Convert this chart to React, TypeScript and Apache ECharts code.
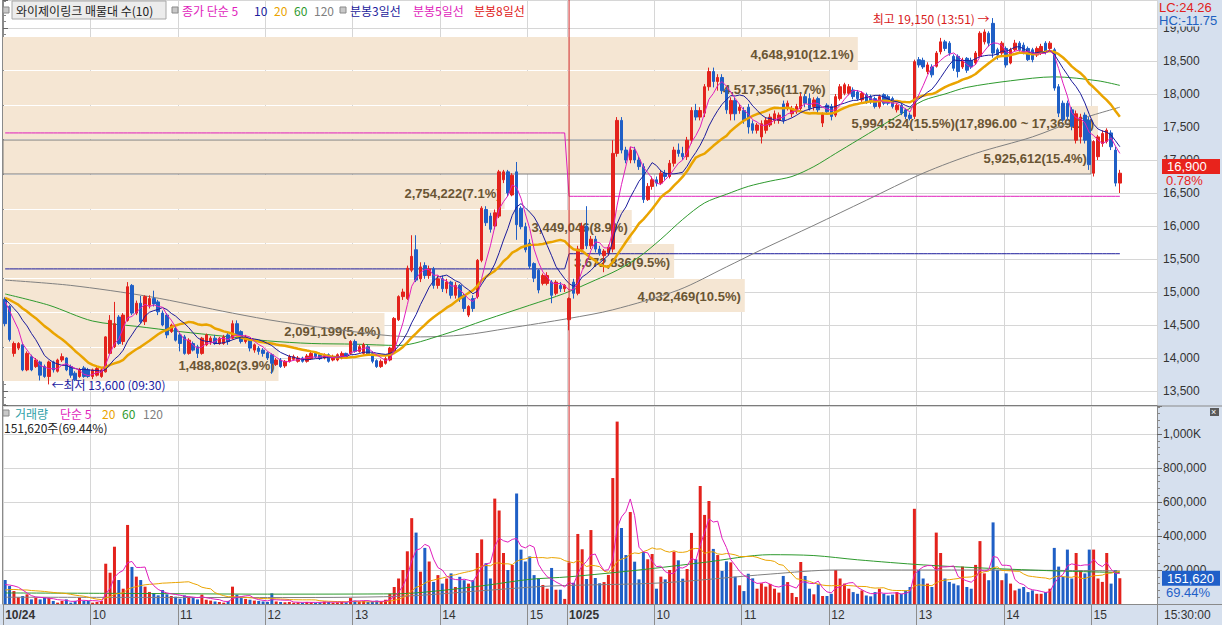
import React, { useEffect, useRef } from "react";
import * as echarts from "echarts";

// ---------------- data ----------------
const DATES = ["10/24", "10/25"];

// 3-minute candles [open, close, low, high]
const day1Candles: number[][] = [
  [14890,14520,14480,14920],[14780,14280,14250,14800],[14070,14220,14020,14250],[14150,14220,14120,14240],[14200,13820,13800,14230],[13820,14070,13800,14100],[14020,13820,13800,14050],[13870,13970,13850,14000],[13940,13740,13660,13960],[13870,13720,13700,13900],
  [13720,13940,13600,13960],[13940,13820,13780,13960],[13800,13970,13780,13990],[13970,14020,13940,14070],[14000,13820,13800,14010],[13870,13740,13700,13900],[13770,13670,13650,13800],[13720,13820,13700,13850],[13850,13720,13700,13880],[13820,13720,13700,13850],
  [13720,13820,13680,13840],[13740,13840,13720,13870],[13720,13820,13700,13850],[13790,14320,13780,14330],[14070,14570,14060,14650],[14170,14520,14150,14850],[14620,14220,14200,14650],[14250,14650,14200,14680],[14570,15080,14550,15150],[15100,14680,14650,15120],
  [14680,14830,14650,14870],[14830,14550,14520,14940],[14550,14930,14500,14950],[14800,14900,14750,14950],[14900,14820,14780,15020],[14850,14700,14650,14880],[14680,14500,14480,14720],[14650,14350,14300,14680],[14400,14500,14380,14520],[14450,14270,14250,14480],
  [14350,14220,14100,14380],[14320,14070,14050,14350],[14070,14270,14050,14300],[14220,14120,14100,14250],[14170,14070,14000,14200],[14070,14300,14050,14320],[14200,14350,14180,14370],[14250,14300,14200,14330],[14300,14220,14200,14350],[14220,14300,14200,14320],
  [14220,14320,14200,14350],[14350,14250,14200,14380],[14300,14520,14280,14570],[14520,14350,14330,14570],[14400,14250,14220,14420],[14250,14320,14220,14350],[14280,14150,14100,14300],[14120,14200,14080,14220],[14150,14100,14050,14180],[14120,14070,14020,14150],
  [14080,14000,13970,14100],[14050,13920,13760,14070],[13900,13970,13880,14000],[13970,13870,13850,14000],[13880,13950,13850,13970],[13950,14020,13930,14050],[13980,14020,13960,14050],[13950,14000,13930,14030],[14000,13950,13930,14020],[13950,14030,13930,14060],
  [13990,14070,13970,14100],[14070,14020,14000,14100],[14050,13990,13970,14080],[14000,14050,13980,14070],[14050,13950,13930,14070],[13970,14020,13950,14050],[13970,14050,13950,14070],[14000,14070,13980,14100],[14070,14020,14000,14080],[14070,14250,14050,14270],
  [14250,14100,14080,14280],[14100,14170,14080,14200],[14070,14200,14050,14230],[14170,14050,14030,14200],[14070,13950,13920,14100],[13960,13870,13850,13980],[13870,13950,13850,13980],[13920,13990,13900,14020],[13970,14150,13950,14170],[14100,14600,14080,14620],
  [14580,14930,14560,14950],[14930,15000,14880,15050],[14900,15360,14880,15400],[15330,15540,15300,15860],[15640,15180,15150,15860],[15200,15380,15150,15450],[15400,15250,15200,15450],[15250,15350,15200,15400],[15350,15100,15050,15380],[15100,15200,15050,15250],
  [15200,15050,15000,15250],[15050,15150,14980,15200],[15150,14950,14900,15170],[14950,15100,14900,15150],[15100,14900,14850,15120],[14950,14750,14700,14980],[14650,14780,14620,14800],[14900,14750,14700,14950],[14930,15480,14900,15500],[15480,16270,15450,16300],
  [16250,16050,16000,16300],[16150,15950,15900,16200],[16000,16200,15950,16250],[16150,16820,16120,16850],[16700,16820,16650,16850],[16820,16500,16450,16850],[16470,16770,16450,16800],[16820,16020,15790,16970],[16270,15990,15950,16300],[15990,15640,15600,16050],
  [15740,15390,15350,15800],[15430,15210,15150,15450],[15330,15030,14980,15350],[15130,15250,15100,15280],[15130,15250,15100,15300],[15150,14950,14830,15180],[14980,15150,14950,15180],[15100,15050,15000,15150],[15050,15100,15000,15120],
];
const day2Candles: number[][] = [
  [14580,14900,14420,14920],[15150,14980,14900,15200],[14980,15650,14950,15700],[15650,16000,15600,16050],[16000,15700,15650,16300],[15700,15800,15650,15850],[15800,15650,15600,15850],[15650,15580,15550,15700],[15550,15620,15300,15650],[15600,15680,15550,15720],
  [15650,17100,15600,17300],[17100,17600,17050,17650],[17600,17150,17100,17650],[17150,17000,16950,17200],[17000,17150,16950,17200],[17150,17000,16950,17200],[17000,16900,16850,17050],[16900,16400,16350,16950],[16400,16600,16380,16650],[16600,16700,16550,16750],
  [16700,16650,16600,16750],[16650,16800,16620,16850],[16800,16750,16700,16850],[16750,16950,16720,17000],[16950,17150,16900,17200],[17150,17100,17050,17250],[17100,17050,17000,17200],[17050,17300,17000,17350],[17300,17750,17250,17800],[17750,17650,17600,17850],
  [17650,17750,17600,17800],[17710,18110,17650,18150],[18110,18340,18050,18400],[18340,18190,18100,18400],[18190,18250,18050,18300],[18250,18050,18000,18300],[18060,17760,17700,18100],[17700,17900,17600,17950],[17900,17700,17600,17950],[17750,17800,17700,17850],
  [17750,17600,17550,17800],[17800,17500,17400,17850],[17550,17450,17400,17600],[17450,17530,17400,17560],[17350,17550,17250,17600],[17450,17600,17400,17650],[17530,17650,17500,17700],[17600,17700,17550,17750],[17600,17680,17550,17720],[17850,17600,17550,17900],
  [17800,17860,17750,17900],[17700,17780,17650,17820],[17730,17810,17700,17850],[17780,17960,17750,18010],[17960,17860,17800,18000],[17930,17780,17750,18010],[17810,17910,17750,17950],[17930,17760,17700,17960],[17560,17690,17500,17720],[17830,17730,17700,17860],
  [17810,17660,17600,17850],[17680,17960,17650,18000],[17930,18110,17900,18150],[18010,18140,17980,18170],[18010,18110,17980,18150],[18060,17960,17920,18100],[18030,17930,17900,18060],[17910,18010,17880,18040],[17990,17880,17850,18020],[17960,17880,17850,17990],
  [17930,17810,17780,17960],[17810,17960,17780,17990],[17990,17860,17830,18010],[17960,17860,17830,17990],[17930,17810,17780,17960],[17760,17830,17720,17860],[17830,17710,17680,17860],[17760,17660,17620,17780],[17680,17630,17600,17720],[17660,18490,17620,18520],
  [18520,18440,18400,18560],[18510,18410,18380,18550],[18340,18440,18300,18480],[18410,18290,18250,18450],[18420,18620,18400,18650],[18640,18790,18600,18850],[18790,18690,18650,18820],[18770,18620,18580,18800],[18570,18390,18350,18600],[18570,18340,18250,18600],
  [18410,18510,18380,18550],[18540,18360,18320,18560],[18510,18410,18380,18550],[18470,18620,18440,18650],[18570,18920,18550,18950],[18790,18940,18750,18980],[18920,18770,18720,18950],[19070,18620,18550,19150],[18670,18590,18520,18700],[18620,18770,18580,18800],
  [18690,18440,18400,18720],[18470,18670,18450,18700],[18670,18770,18650,18820],[18770,18670,18640,18800],[18740,18620,18600,18780],[18690,18520,18500,18720],[18670,18520,18480,18700],[18590,18690,18560,18720],[18620,18720,18590,18760],[18770,18640,18600,18800],
  [18690,18770,18660,18800],[18670,18090,18050,18700],[18110,17710,17650,18150],[17860,17610,17580,17900],[17860,17660,17600,17900],[17760,17510,17450,17800],[17300,17700,17250,17750],[17350,17650,17250,17700],[17680,17300,17250,17720],[17600,16930,16850,17650],
  [16800,17280,16750,17300],[17050,17350,17000,17380],[17250,17400,17200,17450],[17280,17450,17250,17480],[17410,17200,17150,17450],[17150,16650,16600,17200],[16650,16800,16500,16850],
];

// volume, thousand shares
const day1Volume: number[] = [
  141,106,76,40,47,57,27,37,27,37, 37,18,8,18,27,8,18,37,18,18,
  8,12,18,237,184,337,141,90,465,218, 161,141,102,71,63,51,82,57,47,43,
  31,51,43,35,27,55,25,20,15,12, 8,18,102,55,35,30,25,20,18,15,
  12,63,15,12,10,12,8,10,8,12, 10,8,10,15,12,8,10,12,10,35,
  20,15,18,12,15,20,12,25,60,100, 150,200,310,505,420,190,330,250,130,170,
  120,150,180,100,160,140,120,140,300,380, 240,150,620,550,300,200,230,650,320,250,
  280,170,150,112,90,212,84,84,30,
];
const day2Volume: number[] = [
  243,125,412,322,147,435,153,122,129,171, 741,1073,447,288,541,249,145,306,263,294,
  90,161,145,200,308,257,149,206,418,263, 694,524,606,324,288,194,251,245,161,110,
  76,178,151,90,122,102,118,90,67,165, 129,65,41,247,165,90,57,116,47,47,
  60,200,150,120,90,70,60,80,50,45, 70,90,60,50,55,70,60,80,100,560,
  200,150,120,100,420,300,150,130,120,110, 220,100,90,230,370,180,140,480,200,140,
  180,120,80,90,100,70,80,60,60,70, 90,330,220,160,320,150,300,200,180,320,
  320,150,130,300,120,200,151.62,
];

// closes / volumes of the candles before the first visible one (for the moving averages)
const prevCloses = [14950,14920,14960,14980,14940,14900,14930,14960,14920,14900,14940,14960,14930,14900,14920,14950,14930,14910,14940];
const prevVolumes = [60,50,70,80,60,90,70,60,80,100,70,60,50,80,90,120,100,80,130];

// long moving averages [candle index, value]
const ma60Points: number[][] = [[0,14970],[10,14800],[20,14560],[30,14480],[40,14400],[50,14330],[60,14260],[70,14220],[80,14210],[90,14190],[100,14350],[110,14580],[120,14800],[128,14980],[135,15180],[140,15330],[145,15530],[150,15800],[155,16100],[160,16350],[165,16480],[170,16600],[175,16680],[180,16750],[185,16900],[190,17100],[195,17300],[200,17500],[205,17700],[210,17900],[215,18000],[220,18100],[230,18200],[240,18260],[250,18200],[255,18130]];
const ma120Points: number[][] = [[0,15180],[15,15100],[33,14930],[52,14680],[63,14550],[86,14350],[95,14320],[105,14350],[115,14450],[129,14600],[139,14730],[154,15030],[165,15380],[173,15640],[185,16010],[197,16390],[210,16800],[222,17100],[235,17350],[245,17600],[255,17800]];
const volMa60Points: number[][] = [[0,65],[30,62],[60,58],[90,60],[100,80],[110,110],[120,145],[129,160],[145,200],[160,245],[175,290],[185,285],[195,260],[210,230],[225,210],[240,195],[255,185]];
const volMa120Points: number[][] = [[0,40],[60,38],[90,45],[110,80],[125,106],[150,124],[175,176],[190,200],[220,200],[255,195]];

// 분봉 N일선 levels per day
const minuteLine3 = [15350, 15580];
const minuteLine5 = [17410, 16450];

// 매물대 (volume profile) bands, low → high
const bandEdges = [13650,14173,14696,15219,15742,16265,16788,17311,17834,18357,18880];
const bandVolumes = [1488802,2091199,4032469,3672836,3449046,2754222,5925612,5994524,4517356,4648910];
const bandPercents = [3.9,5.4,10.5,9.5,8.9,7.1,15.4,15.5,11.7,12.1];
const maxBandRangeText = "(17,896.00 ~ 17,369.00)";

const highMark = { index: 226, value: 19150, time: "13:51" };
const lowMark = { index: 10, value: 13600, time: "09:30" };
const currentPrice = 16900;
const changeText = "0.78%";
const lastVolume = 151620;
const volumeRatioText = "69.44%";
const lcText = "LC:24.26";
const hcText = "HC:-11.75";
const EMPTY_SLOTS = 8;

// axis ranges
const PRICE_MIN = 13288, PRICE_MAX = 19424;
const VOL_MAX = 1164700;

// ---------------- helpers ----------------
const RED = "#e3221c";
const BLUE = "#1f5fc6";
const NAVY = "#1c1c9c";
const MAGENTA = "#e01ebc";
const GOLD = "#eaa400";
const GREEN = "#2e9a2e";
const GRAY = "#808080";
const GRID = "#d6d6d6";
const PANEL = "#d6e0ee";
const BAND = "#f5e6d3";
const SEP = "#d02828";
const NUM_FONT = "'Liberation Sans', Arial, sans-serif";
const KR_FONT = "'Noto Sans CJK KR', 'Noto Sans', sans-serif";

const fmt = (n: number) => Math.round(n).toLocaleString("en-US");

function sma(values: number[], prev: number[], n: number) {
  const all = prev.concat(values);
  return values.map((_, i) => {
    const end = prev.length + i + 1;
    const start = end - n;
    if (start < 0) return null;
    let s = 0;
    for (let k = start; k < end; k++) s += all[k];
    return s / n;
  });
}

function pad2(n: number) { return (n < 10 ? "0" : "") + n; }
function timeLabel(k: number) {
  const m = 9 * 60 + k * 3;
  return pad2(Math.floor(m / 60)) + ":" + pad2(m % 60);
}

const N1 = day1Candles.length;
const candles = day1Candles.concat(day2Candles);
const categories: string[] = [];
day1Candles.forEach((_, k) => categories.push(DATES[0] + " " + (k === N1 - 1 ? "15:30" : timeLabel(k))));
day2Candles.forEach((_, k) => categories.push(DATES[1] + " " + timeLabel(k)));
for (let k = 0; k < EMPTY_SLOTS; k++) categories.push("-" + k);

const tickSet = new Set<number>();
categories.forEach((c, i) => { if (c.endsWith(":00")) tickSet.add(i); });
const isTick = (index: number) => tickSet.has(index);

const closes = candles.map((c) => c[1]);
const volumes = day1Volume.concat(day2Volume).map((v) => Math.round(v * 1000));
const prevVols = prevVolumes.map((v) => v * 1000);
const ma5 = sma(closes, prevCloses, 5);
const ma10 = sma(closes, prevCloses, 10);
const ma20 = sma(closes, prevCloses, 20);
const vma5 = sma(volumes, prevVols, 5);
const vma20 = sma(volumes, prevVols, 20);
const line3 = candles.map((_, i) => minuteLine3[i < N1 ? 0 : 1]);
const line5 = candles.map((_, i) => minuteLine5[i < N1 ? 0 : 1]);

const maxBand = bandPercents.indexOf(Math.max(...bandPercents));
let currentBand = -1;
for (let k = 0; k < bandPercents.length; k++) if (currentPrice >= bandEdges[k] && currentPrice < bandEdges[k + 1]) currentBand = k;

function lineSeries(name: string, data: any[], color: string, width: number, xi: number, yi: number, z: number, smooth: any = false) {
  return {
    type: "line", name, data, xAxisIndex: xi, yAxisIndex: yi, symbol: "none", smooth, z,
    lineStyle: { color, width }, itemStyle: { color }, silent: true, connectNulls: true,
  };
}

function txt(text: string, x: number, y: number, fill: string, font = `12px ${KR_FONT}`, extra: any = {}) {
  return {
    type: "text", z: 20,
    style: { text, x, y, fill, font, textVerticalAlign: "middle", verticalAlign: "middle", ...extra },
  };
}
function icon(x: number, y: number) {
  return { type: "rect", z: 20, shape: { x, y, width: 6, height: 6 }, style: { fill: "#c8c8c8", stroke: "#8a8a8a", lineWidth: 1 } };
}

function valueTag(value: number, sub: string, bg: string) {
  return {
    yAxis: value,
    lineStyle: { color: "rgba(0,0,0,0)", width: 0 },
    label: {
      show: true, position: "end", distance: 5,
      formatter: "{e|}\n{a|" + fmt(value) + "}\n{b|" + sub + "}",
      rich: {
        e: { height: 13, lineHeight: 13, fontSize: 12 },
        a: { backgroundColor: bg, color: "#fff", width: 53, height: 15, lineHeight: 15, fontSize: 13, padding: [0, 0, 0, 5], fontFamily: NUM_FONT },
        b: { color: bg, fontSize: 13, height: 13, lineHeight: 13, padding: [0, 0, 0, 4], fontFamily: NUM_FONT },
      },
    },
  };
}

// ---------------- option ----------------
const option: any = {
  animation: false,
  textStyle: { fontFamily: NUM_FONT },
  grid: [
    { left: 3, top: 0, width: 1154, height: 405, show: false },
    { left: 3, top: 406, width: 1154, height: 198, show: false },
  ],
  xAxis: [
    {
      type: "category", gridIndex: 0, data: categories, boundaryGap: true,
      axisLine: { show: true, lineStyle: { color: "#7c7c7c" } },
      axisTick: { show: false }, axisLabel: { show: false },
      splitLine: { show: true, interval: isTick, lineStyle: { color: GRID } },
    },
    {
      type: "category", gridIndex: 1, data: categories, boundaryGap: true,
      axisLine: { show: true, lineStyle: { color: "#8a8a8a" } },
      axisTick: { show: true, interval: isTick, length: 21, lineStyle: { color: "#8c8c8c" } },
      axisLabel: {
        show: true, interval: isTick, align: "left", margin: 5, color: "#333", fontSize: 12, fontFamily: NUM_FONT,
        formatter: (v: string) => {
          const [d, t] = v.split(" ");
          if (t === "09:00") return "{b|" + d + "}";
          return String(parseInt(t, 10));
        },
        rich: { b: { fontWeight: "bold", fontSize: 12, color: "#333", fontFamily: NUM_FONT } },
      },
      splitLine: { show: true, interval: isTick, lineStyle: { color: GRID } },
    },
    { type: "value", gridIndex: 0, min: 0, max: 16.335, show: false },
  ],
  yAxis: [
    {
      type: "value", gridIndex: 0, position: "right", min: PRICE_MIN, max: PRICE_MAX, splitNumber: 12,
      axisLine: { show: true, lineStyle: { color: "#8a8a8a" } },
      axisTick: { show: true, length: 5, lineStyle: { color: "#666" } },
      minorTick: { show: true, splitNumber: 5, length: 3, lineStyle: { color: "#888" } },
      axisLabel: { showMinLabel: false, showMaxLabel: false, margin: 6, color: "#333", fontSize: 12, fontFamily: NUM_FONT, formatter: (v: number) => fmt(v) },
      splitLine: { show: true, lineStyle: { color: GRID } },
    },
    {
      type: "value", gridIndex: 1, position: "right", min: 0, max: VOL_MAX, splitNumber: 6,
      axisLine: { show: true, lineStyle: { color: "#8a8a8a" } },
      axisTick: { show: true, length: 5, lineStyle: { color: "#666" } },
      minorTick: { show: true, splitNumber: 5, length: 3, lineStyle: { color: "#888" } },
      axisLabel: {
        showMinLabel: false, showMaxLabel: false, margin: 6, color: "#333", fontSize: 12, fontFamily: NUM_FONT,
        formatter: (v: number) => (v >= 1000000 ? fmt(v / 1000) + "K" : fmt(v)),
      },
      splitLine: { show: true, lineStyle: { color: GRID } },
    },
  ],
  series: [
    {
      type: "custom", name: "매물대", xAxisIndex: 2, yAxisIndex: 0, z: 1, silent: true, clip: false,
      data: bandPercents.map((p, k) => [p, bandEdges[k], bandEdges[k + 1]]),
      renderItem: (params: any, api: any) => {
        const k = params.dataIndex;
        const tl = api.coord([0, api.value(2)]);
        const br = api.coord([api.value(0), api.value(1)]);
        const x = tl[0];
        const y = Math.round(tl[1]) + 1;
        const w = br[0] - x;
        const h = Math.round(br[1]) - y;
        let label = fmt(bandVolumes[k]) + "(" + bandPercents[k].toFixed(1) + "%)";
        if (k === maxBand) label += maxBandRangeText;
        const rectStyle: any = { fill: BAND };
        if (k === currentBand) { rectStyle.stroke = "#7d7d7d"; rectStyle.lineWidth = 1; }
        return {
          type: "group",
          children: [
            { type: "rect", shape: { x, y, width: w, height: h }, style: rectStyle },
            {
              type: "text",
              style: {
                text: label, x: x + w - 4, y: y + h / 2 + 1,
                align: "right", verticalAlign: "middle", textAlign: "right", textVerticalAlign: "middle",
                fill: "#6a5533", font: `bold 13px ${NUM_FONT}`,
              },
            },
          ],
        };
      },
    },
    lineSeries("분봉3일선", line3, NAVY, 1, 0, 0, 2),
    lineSeries("분봉5일선", line5, MAGENTA, 1, 0, 0, 2),
    // day separators (vertical lines at the first candle of 10/25)
    lineSeries("day-sep-price", [[categories[N1], PRICE_MIN], [categories[N1], PRICE_MAX]], SEP, 1, 0, 0, 6),
    lineSeries("day-sep-volume", [[categories[N1], 0], [categories[N1], VOL_MAX]], SEP, 1, 1, 1, 6),
    lineSeries("MA120", ma120Points, GRAY, 1, 0, 0, 3, 0.3),
    lineSeries("MA60", ma60Points, GREEN, 1, 0, 0, 3, 0.3),
    {
      type: "candlestick", name: "가격", data: candles, xAxisIndex: 0, yAxisIndex: 0, barWidth: 3, z: 4,
      itemStyle: { color: RED, color0: BLUE, borderColor: RED, borderColor0: BLUE, borderWidth: 1 },
      markPoint: {
        silent: true, symbol: "circle", symbolSize: 1, itemStyle: { color: "rgba(0,0,0,0)" },
        data: [
          {
            coord: [categories[highMark.index], highMark.value],
            label: { show: true, position: "left", distance: 3, color: "#d8201c", fontSize: 12, fontFamily: KR_FONT, formatter: "최고 " + fmt(highMark.value) + " (" + highMark.time + ") →" },
          },
          {
            coord: [categories[lowMark.index], lowMark.value],
            label: { show: true, position: "right", distance: 2, color: "#1a1aa0", fontSize: 12, fontFamily: KR_FONT, formatter: "←최저 " + fmt(lowMark.value) + " (" + lowMark.time + ")" },
          },
        ],
      },
      markLine: {
        silent: true, symbol: ["none", "none"], label: { show: false },
        data: [valueTag(currentPrice, changeText, "#e8231c")],
      },
    },
    lineSeries("MA20", ma20, GOLD, 2.5, 0, 0, 5),
    lineSeries("MA10", ma10, NAVY, 1, 0, 0, 5),
    lineSeries("MA5", ma5, MAGENTA, 1, 0, 0, 5),
    {
      type: "bar", name: "거래량", xAxisIndex: 1, yAxisIndex: 1, barWidth: 3, z: 3,
      data: volumes.map((v, i) => ({ value: v, itemStyle: { color: candles[i][1] >= candles[i][0] ? RED : BLUE } })),
      markLine: {
        silent: true, symbol: ["none", "none"], label: { show: false },
        data: [valueTag(lastVolume, volumeRatioText, "#1f5fc8")],
      },
    },
    lineSeries("VMA120", volMa120Points.map((p) => [p[0], p[1] * 1000]), GRAY, 1, 1, 1, 4, 0.3),
    lineSeries("VMA60", volMa60Points.map((p) => [p[0], p[1] * 1000]), GREEN, 1, 1, 1, 4, 0.3),
    lineSeries("VMA20", vma20, GOLD, 1, 1, 1, 4),
    lineSeries("VMA5", vma5, MAGENTA, 1, 1, 1, 4),
  ],
  graphic: [
    // panels
    { type: "rect", z: -1, shape: { x: 1157, y: 0, width: 65, height: 625 }, style: { fill: PANEL } },
    { type: "rect", z: -1, shape: { x: 0, y: 604, width: 1157, height: 21 }, style: { fill: PANEL } },
    { type: "line", z: 15, shape: { x1: 1157, y1: 406, x2: 1222, y2: 406 }, style: { stroke: "#8a8a8a", lineWidth: 1 } },
    { type: "line", z: 15, shape: { x1: 1157, y1: 604.5, x2: 1222, y2: 604.5 }, style: { stroke: "#8a8a8a", lineWidth: 1 } },
    { type: "line", z: 15, shape: { x1: 2.5, y1: 0, x2: 2.5, y2: 604 }, style: { stroke: "#8a8a8a", lineWidth: 1 } },
    // price legend
    icon(3, 7),
    { type: "rect", z: 19, shape: { x: 12, y: 1, width: 154, height: 18 }, style: { fill: "#ececec", stroke: "#a8a8a8", lineWidth: 1 } },
    txt("와이제이링크 매물대 수(10)", 16, 10, "#222"),
    icon(172, 7),
    txt("종가 단순 5", 182, 10, MAGENTA),
    txt("10", 254, 10, NAVY),
    txt("20", 274, 10, GOLD),
    txt("60", 294, 10, GREEN),
    txt("120", 314, 10, GRAY),
    icon(340, 7),
    txt("분봉3일선", 350, 10, NAVY),
    txt("분봉5일선", 413, 10, MAGENTA),
    txt("분봉8일선", 474, 10, "#e02020"),
    // volume legend
    icon(3, 410),
    txt("거래량", 15, 413, "#2f9fa8"),
    txt("단순 5", 60, 413, MAGENTA),
    txt("20", 102, 413, GOLD),
    txt("60", 122, 413, GREEN),
    txt("120", 143, 413, GRAY),
    txt("151,620주(69.44%)", 4, 427, "#222"),
    // right panel texts
    txt(lcText, 1159, 7, "#e02020", `13px ${NUM_FONT}`, { backgroundColor: PANEL, padding: [0, 6, 0, 0] }),
    txt(hcText, 1159, 20, "#2060c0", `13px ${NUM_FONT}`, { backgroundColor: PANEL, padding: [0, 2, 0, 0] }),
    txt("15:30:00", 1164, 615, "#333", `12px ${NUM_FONT}`),
    { type: "rect", z: 20, shape: { x: 1210, y: 408, width: 9, height: 8 }, style: { fill: "#5a5a5a" } },
    txt("×", 1211, 412, "#fff", `9px ${NUM_FONT}`),
  ],
};

export default function App() {
  const ref = useRef<HTMLDivElement>(null);
  useEffect(() => {
    const chart = echarts.init(ref.current as HTMLDivElement, null, { renderer: "svg" });
    chart.setOption(option);
    return () => chart.dispose();
  }, []);
  return <div ref={ref} style={{ position: "absolute", left: 0, top: 0, width: 1222, height: 625, background: "#fff" }} />;
}
